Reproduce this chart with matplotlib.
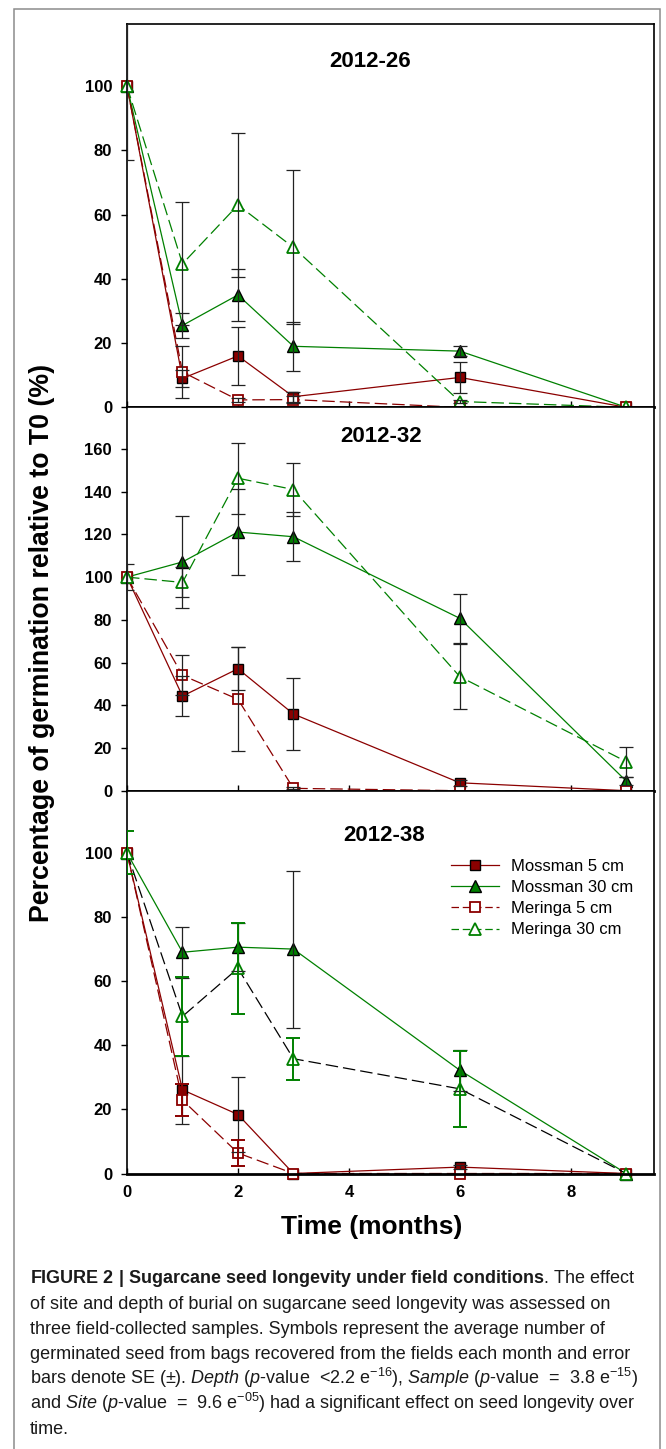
import matplotlib
matplotlib.use('Agg')
import matplotlib.pyplot as plt
from matplotlib.lines import Line2D
from matplotlib.patches import Rectangle
import numpy as np

plt.rcParams['font.family'] = ['Liberation Sans', 'DejaVu Sans']
plt.rcParams['mathtext.fontset'] = 'custom'
plt.rcParams['mathtext.rm'] = 'Liberation Sans'
plt.rcParams['mathtext.it'] = 'Liberation Sans:italic'
plt.rcParams['mathtext.bf'] = 'Liberation Sans:bold'

# time after burial (months)
months = [0, 1, 2, 3, 6, 9]

# sample 2012-26: means and SE
s26_moss5 = [100, 9.0, 16.0, 3.3, 9.3, 0]
s26_moss5_se = [23, 2.6, 9.0, 1.5, 4.8, 0]
s26_moss30 = [100, 25.5, 35.0, 19.0, 17.5, 0]
s26_moss30_se = [0, 4.0, 8.0, 7.7, 1.5, 0]
s26_mer5 = [100, 11.0, 2.3, 2.4, 0, 0]
s26_mer5_se = [0, 8.0, 0.5, 1.0, 0, 0]
s26_mer30 = [100, 44.7, 63.0, 49.8, 1.8, 0]
s26_mer30_se = [0, 19.2, 22.5, 24.0, 0.5, 0]

# sample 2012-32
s32_moss5 = [100, 44.3, 57.1, 35.9, 3.7, 0]
s32_moss5_se = [0, 9.3, 10.0, 17.0, 1.5, 0]
s32_moss30 = [100, 107.1, 121.1, 118.9, 80.7, 4.5]
s32_moss30_se = [6, 21.7, 20.0, 11.5, 11.5, 2.0]
s32_mer5 = [100, 54.0, 42.8, 1.1, 0, 0]
s32_mer5_se = [0, 9.4, 24.4, 0.5, 0, 0]
s32_mer30 = [100, 97.5, 146.3, 141.0, 53.4, 13.6]
s32_mer30_se = [0, 7.0, 16.7, 12.6, 15.2, 7.0]

# sample 2012-38
s38_moss5 = [100, 26.1, 18.4, 0, 2.0, 0]
s38_moss5_se = [0, 10.6, 11.7, 0, 0.5, 0]
s38_moss30 = [100, 69.0, 70.6, 70.0, 32.2, 0]
s38_moss30_se = [0, 8.0, 7.5, 24.5, 6.4, 0]
s38_mer5 = [100, 22.9, 6.4, 0, 0, 0]
s38_mer5_se = [0, 5.0, 4.1, 0, 0, 0]
s38_mer30 = [100, 49.0, 64.0, 35.8, 26.4, 0]
s38_mer30_se = [6.7, 12.3, 14.1, 6.5, 11.8, 0]

labels = ['Mossman 5 cm', 'Mossman 30 cm', 'Meringa 5 cm', 'Meringa 30 cm']

RED = '#8b0000'
GREEN = '#008000'
DASH = (0, (10, 4))

styles = {
    'moss5': dict(color=RED, ls='-', marker='s', mfc=RED, mec='black', ms=7.2),
    'moss30': dict(color=GREEN, ls='-', marker='^', mfc=GREEN, mec='black', ms=8.5),
    'mer5': dict(color=RED, ls=DASH, marker='s', mfc='white', mec=RED, ms=7.2, mew=1.3),
    'mer30': dict(color=GREEN, ls=DASH, marker='^', mfc='white', mec=GREEN, ms=8.5, mew=1.3),
}

fig = plt.figure(figsize=(6.66, 14.49), dpi=100)
W, H = 666.0, 1449.0
K = '#222222'


def add_panel(top_px, bot_px, ytop, yticks, title, tpos, series, bottom=False):
    ax = fig.add_axes([127 / W, 1 - bot_px / H, 527 / W, (bot_px - top_px) / H])
    for vals, se, key, lcol, ecol in series:
        st = dict(styles[key])
        if lcol is not None:
            st['color'] = lcol
        ax.plot(months, vals, lw=0.9, clip_on=False, zorder=2, **st)
        # only draw bars where an SE was visible
        x = [m for m, s in zip(months, se) if s > 0]
        y = [v for v, s in zip(vals, se) if s > 0]
        e = [s for s in se if s > 0]
        ew = 1.4 if ecol != K else 0.9
        ax.errorbar(x, y, yerr=e, fmt='none', ecolor=ecol, elinewidth=ew,
                    capsize=4.7, capthick=ew, zorder=3)
    ax.set_xlim(0, 9.5)
    ax.set_ylim(0, ytop)
    ax.set_xticks([0, 2, 4, 6, 8])
    ax.set_yticks(yticks)
    ax.set_yticklabels([str(t) for t in yticks], fontweight='bold', fontsize=12)
    ax.set_xticklabels(['0', '2', '4', '6', '8'], fontweight='bold', fontsize=12)
    ax.tick_params(axis='x', direction='in', length=4.3, width=1, pad=8,
                   labelbottom=bottom)
    ax.tick_params(axis='y', direction='out', length=4.3, width=1, pad=6.5)
    for side in ['left', 'right', 'top']:
        ax.spines[side].set_linewidth(1.2)
    ax.spines['bottom'].set_linewidth(2.0)
    ax.text(tpos[0], tpos[1], title, transform=ax.transAxes, ha='center',
            va='center', fontsize=16, fontweight='bold')
    return ax


add_panel(24, 407.3, 119.4, [0, 20, 40, 60, 80, 100], '2012-26', (0.461, 0.903), [
    (s26_moss5, s26_moss5_se, 'moss5', None, K),
    (s26_moss30, s26_moss30_se, 'moss30', None, K),
    (s26_mer5, s26_mer5_se, 'mer5', None, K),
    (s26_mer30, s26_mer30_se, 'mer30', None, K),
])
add_panel(407.3, 790.7, 179.5, [0, 20, 40, 60, 80, 100, 120, 140, 160], '2012-32',
          (0.482, 0.924), [
    (s32_moss5, s32_moss5_se, 'moss5', None, K),
    (s32_moss30, s32_moss30_se, 'moss30', None, K),
    (s32_mer5, s32_mer5_se, 'mer5', None, K),
    (s32_mer30, s32_mer30_se, 'mer30', None, K),
])
ax3 = add_panel(790.7, 1173.5, 119.4, [0, 20, 40, 60, 80, 100], '2012-38', (0.488, 0.882), [
    (s38_moss5, s38_moss5_se, 'moss5', None, K),
    (s38_moss30, s38_moss30_se, 'moss30', None, K),
    (s38_mer5, s38_mer5_se, 'mer5', None, RED),
    (s38_mer30, s38_mer30_se, 'mer30', 'black', GREEN),
], bottom=True)

handles = []
for key in ['moss5', 'moss30', 'mer5', 'mer30']:
    st = dict(styles[key])
    if key.startswith('mer'):
        st['ls'] = (0, (6, 3))
    handles.append(Line2D([], [], lw=0.9, **st))
ax3.legend(handles, labels, loc='upper left', bbox_to_anchor=(0.615, 0.8216),
           frameon=False, fontsize=12, handlelength=2.9, handletextpad=0.7,
           labelspacing=0.37, borderpad=0, borderaxespad=0, numpoints=1)

fig.text(42 / W, 1 - 642.5 / H, 'Percentage of germination relative to T0 (%)',
         rotation=90, ha='center', va='center', fontsize=19.3, fontweight='bold')
fig.text(371.5 / W, 1 - 1227 / H, 'Time (months)', ha='center', va='center',
         fontsize=19, fontweight='bold')

caption = [
    r'$\mathbf{FIGURE\ 2\ |\ Sugarcane\ seed\ longevity\ under\ field\ conditions}$. The effect',
    'of site and depth of burial on sugarcane seed longevity was assessed on',
    'three field-collected samples. Symbols represent the average number of',
    'germinated seed from bags recovered from the fields each month and error',
    r'bars denote SE (±). $\mathit{Depth}$ ($\mathit{p}$-value  <2.2 $\mathrm{e}^{-16}$), '
    r'$\mathit{Sample}$ ($\mathit{p}$-value  =  3.8 $\mathrm{e}^{-15}$)',
    r'and $\mathit{Site}$ ($\mathit{p}$-value  =  9.6 $\mathrm{e}^{-05}$) had a significant '
    'effect on seed longevity over',
    'time.',
]
baselines = [1283, 1309, 1334, 1359, 1384, 1409, 1434]
for line, b in zip(caption, baselines):
    fig.text(30 / W, 1 - b / H, line, ha='left', va='baseline', fontsize=13,
             color='#1a1a1a')

fig.add_artist(Rectangle((14 / W, -0.01), (660 - 14) / W, 1.01 - 9 / H,
                         transform=fig.transFigure, fill=False,
                         edgecolor='#8c8c8c', lw=1.1))

fig.savefig('out.png', dpi=100)
